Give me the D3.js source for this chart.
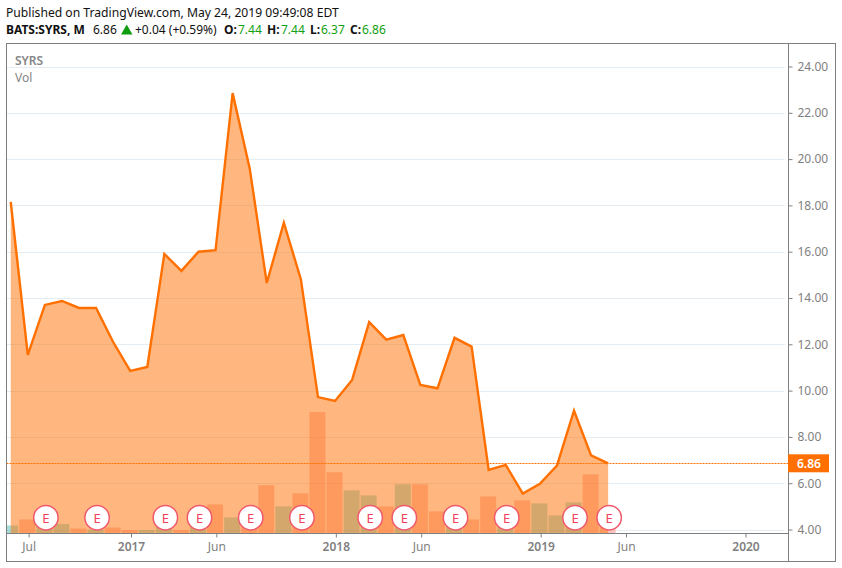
<!DOCTYPE html>
<html lang="en">
<head>
<meta charset="utf-8">
<title>SYRS</title>
<script src="https://d3js.org/d3.v7.min.js"></script>
<style>
html, body { margin: 0; padding: 0; background: #fff; }
svg { display: block; }
text { font-family: "Noto Sans", "Open Sans", sans-serif; }
</style>
</head>
<body>
<script>
// monthly closes, Jun 2016 (month -1) to May 2019 (month 34)
var closes = [18.15, 11.54, 13.7, 13.87, 13.57, 13.57, 12.1, 10.85, 11.02, 15.9, 15.17, 16, 16.07, 22.85, 19.6, 14.65, 17.25, 14.8, 9.72, 9.55, 10.46, 12.96, 12.2, 12.4, 10.24, 10.1, 12.28, 11.9, 6.57, 6.79, 5.55, 5.97, 6.76, 9.13, 7.2, 6.86]
var firstMonth = -1
// volume, arbitrary units
var volumes = [0.8, 1.4, 0.8, 0.95, 0.5, 0.4, 0.6, 0.35, 0.35, 0.7, 0.35, 0.7, 2.9, 1.6, 1.2, 4.8, 2.7, 4.0, 12.1, 6.1, 4.3, 3.8, 2.7, 4.9, 4.9, 2.2, 2.3, 1.4, 3.7, 0.9, 3.3, 3.0, 1.8, 3.1, 5.9, 1.5]
var volumeUp = [1, 0, 1, 1, 0, 1, 0, 0, 1, 1, 0, 1, 0, 1, 0, 0, 1, 0, 0, 0, 1, 1, 0, 1, 0, 0, 1, 0, 0, 1, 0, 1, 1, 1, 0, 0]
var earnings = [1, 4, 8, 10, 13, 16, 20, 22, 25, 28, 32, 34]
var yTicks = [4, 6, 8, 10, 12, 14, 16, 18, 20, 22, 24]
var xTickMonths = [0, 6, 11, 18, 23, 30, 35, 42]
var xTickLabels = ["Jul", "2017", "Jun", "2018", "Jun", "2019", "Jun", "2020"]
var xTickBold = [0, 1, 0, 1, 0, 1, 0, 1]
var lastPrice = 6.86

var W = 842, H = 568
var plotLeft = 6.5, plotRight = 788.5, outerRight = 835.5, plotTop = 43.5, plotBottom = 533.5, outerBottom = 561.5

var svg = d3.select("body").append("svg").attr("width", W).attr("height", H)

var x = d3.scaleLinear().domain([0, 42]).range([27.8, 744.7])
var y = d3.scaleLinear().domain([4, 24]).range([529.5, 66.5])
var yVol = d3.scaleLinear().domain([0, 12.1]).range([plotBottom, 412])

svg.append("defs").append("clipPath").attr("id", "plot")
    .append("rect").attr("x", plotLeft).attr("y", plotTop).attr("width", plotRight - plotLeft).attr("height", plotBottom - plotTop)

// grid
svg.append("g").selectAll("line").data(yTicks).enter().append("line")
    .attr("x1", plotLeft).attr("x2", plotRight - 4)
    .attr("y1", function (d) { return Math.round(y(d)) + 0.5 })
    .attr("y2", function (d) { return Math.round(y(d)) + 0.5 })
    .attr("stroke", "#e4edf3").attr("stroke-width", 1)

var plot = svg.append("g").attr("clip-path", "url(#plot)")

// volume bars
plot.selectAll("rect.vol").data(volumes).enter().append("rect").attr("class", "vol")
    .attr("x", function (d, i) { return x(i + firstMonth) - 8.5 })
    .attr("width", 16)
    .attr("y", function (d) { return yVol(d) })
    .attr("height", function (d) { return plotBottom - yVol(d) })
    .attr("fill", function (d, i) { return volumeUp[i] ? "#3fb5ae" : "#ff8a80" })
    .attr("fill-opacity", function (d, i) { return volumeUp[i] ? 0.45 : 0.5 })

// price area + line
var area = d3.area()
    .x(function (d, i) { return x(i + firstMonth) })
    .y0(plotBottom)
    .y1(function (d) { return y(d) })
var line = d3.line()
    .x(function (d, i) { return x(i + firstMonth) })
    .y(function (d) { return y(d) })

plot.append("path").datum(closes).attr("d", area).attr("fill", "#ff7000").attr("fill-opacity", 0.5)
plot.append("path").datum(closes).attr("d", line).attr("fill", "none")
    .attr("stroke", "#ff7000").attr("stroke-width", 2.4).attr("stroke-linejoin", "miter")

// last price line
svg.append("line").attr("x1", plotLeft).attr("x2", plotRight)
    .attr("y1", Math.round(y(lastPrice)) + 0.5).attr("y2", Math.round(y(lastPrice)) + 0.5)
    .attr("stroke", "#ff7000").attr("stroke-width", 1).attr("stroke-dasharray", "2 1")

// earnings markers
var marks = svg.append("g").selectAll("g").data(earnings).enter().append("g")
    .attr("transform", function (d) { return "translate(" + (x(d) + 1) + ",517.7)" })
marks.append("circle").attr("r", 12.2).attr("fill", "#fff").attr("stroke", "#f0596c").attr("stroke-width", 1.5)
marks.append("text").attr("text-anchor", "middle").attr("y", 4.8).attr("font-size", 13).attr("fill", "#f0405a").text("E")

// frame
svg.append("rect").attr("x", plotLeft).attr("y", plotTop).attr("width", outerRight - plotLeft).attr("height", outerBottom - plotTop)
    .attr("fill", "none").attr("stroke", "#7f7f7f")
svg.append("line").attr("x1", plotRight).attr("x2", plotRight).attr("y1", plotTop).attr("y2", outerBottom).attr("stroke", "#7f7f7f")
svg.append("line").attr("x1", plotLeft).attr("x2", plotRight).attr("y1", plotBottom).attr("y2", plotBottom).attr("stroke", "#7f7f7f")

// y axis
var yAxis = d3.axisRight(y).tickValues(yTicks).tickSize(4).tickPadding(5).tickFormat(d3.format(".2f"))
var gy = svg.append("g").attr("transform", "translate(" + plotRight + ",0)").call(yAxis)
gy.select(".domain").remove()
gy.selectAll(".tick line").attr("stroke", "#7f7f7f")
gy.selectAll("text").attr("font-size", 12).attr("fill", "#7f7f7f").attr("font-family", "'Noto Sans', sans-serif")

// x axis
var xAxis = d3.axisBottom(d3.scaleLinear().domain(x.domain()).range(x.range().map(function (r) { return r + 0.8 })))
    .tickValues(xTickMonths).tickSize(4).tickPadding(5)
    .tickFormat(function (d, i) { return xTickLabels[i] })
var gx = svg.append("g").attr("transform", "translate(0," + plotBottom + ")").call(xAxis)
gx.select(".domain").remove()
gx.selectAll(".tick line").attr("stroke", "#7f7f7f")
gx.selectAll("text").attr("font-size", 12).attr("fill", "#7f7f7f").attr("font-family", "'Noto Sans', sans-serif")
    .attr("font-weight", function (d, i) { return xTickBold[i] ? 600 : 400 })

// last price label
svg.append("rect").attr("x", 788).attr("y", y(lastPrice) - 9).attr("width", 41).attr("height", 18).attr("fill", "#ff7000")
svg.append("text").attr("x", 797).attr("y", y(lastPrice) + 4.5).attr("font-size", 12).attr("font-weight", 600)
    .attr("fill", "#fff").text(lastPrice.toFixed(2))

// header
svg.append("text").attr("x", 6).attr("y", 17).attr("font-size", 12.15).attr("fill", "#111").text("Published on TradingView.com, May 24, 2019 09:49:08 EDT")
var head = svg.append("text").attr("x", 6).attr("y", 34).attr("font-size", 12).attr("fill", "#111")
head.append("tspan").attr("font-weight", 700).text("BATS:SYRS, M")
head.append("tspan").attr("x", 93).text("6.86")
svg.append("path").attr("d", "M121 34.5 L126.7 24.5 L132.5 34.5 Z").attr("fill", "#0f9d0f")
var ohlc = svg.append("text").attr("x", 135).attr("y", 34).attr("font-size", 12).attr("fill", "#111")
ohlc.append("tspan").text("+0.04 (+0.59%)")
var labels = ["O:", "H:", "L:", "C:"], vals = ["7.44", "7.44", "6.37", "6.86"], lx = [224, 267, 310, 350], vx = [238, 281, 321, 362]
labels.forEach(function (l, i) {
    svg.append("text").attr("x", lx[i]).attr("y", 34).attr("font-size", 12).attr("font-weight", 700).attr("fill", "#111").text(l)
    svg.append("text").attr("x", vx[i]).attr("y", 34).attr("font-size", 12).attr("fill", "#12a012").text(vals[i])
})
svg.append("text").attr("x", 15).attr("y", 65).attr("font-size", 12).attr("font-weight", 600).attr("fill", "#868686").text("SYRS")
svg.append("text").attr("x", 15).attr("y", 82).attr("font-size", 12).attr("fill", "#868686").text("Vol")
</script>
</body>
</html>
